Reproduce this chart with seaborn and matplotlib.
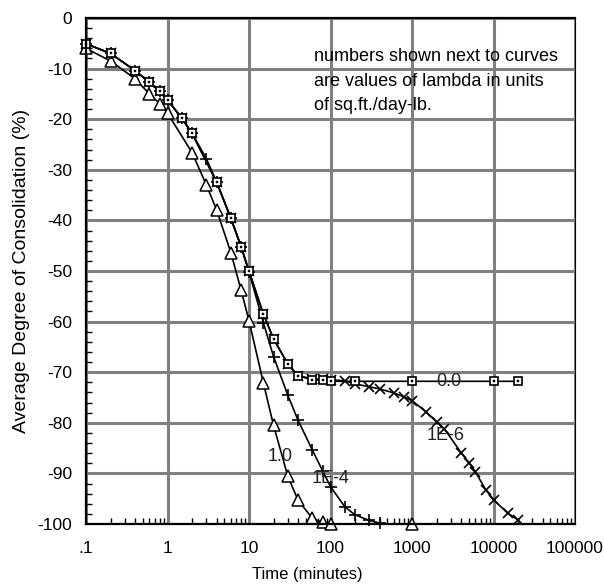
import matplotlib
matplotlib.use("Agg")
import matplotlib.pyplot as plt
import numpy as np
import pandas as pd
import seaborn as sns
from matplotlib.ticker import FixedLocator, FixedFormatter, NullFormatter, MultipleLocator

# ---- data (time in minutes, average degree of consolidation in %) ----
sq_t = [0.1, 0.2, 0.4, 0.6, 0.8, 1, 1.5, 2, 4, 6, 8, 10, 15, 20, 30, 40, 60, 80, 100,
        200, 1000, 10000, 20000]
sq_u = [-5.1, -7.0, -10.4, -12.7, -14.5, -16.2, -19.8, -22.8, -32.4, -39.6, -45.2, -50.0,
        -58.5, -63.4, -68.4, -70.7, -71.5, -71.6, -71.8, -71.8, -71.8, -71.8, -71.8]

x_t = [0.1, 0.2, 0.4, 0.6, 0.8, 1, 1.5, 2, 4, 6, 8, 10, 15, 20, 30, 40, 60, 80, 100,
       150, 200, 300, 400, 600, 800, 1000, 1500, 2000, 2500, 4000, 5000, 6000, 8000,
       10000, 15000, 20000]
x_u = [-5.1, -7.0, -10.4, -12.7, -14.5, -16.2, -19.8, -22.8, -32.4, -39.6, -45.2, -50.0,
       -58.5, -63.4, -68.4, -70.7, -71.3, -71.4, -71.5, -71.7, -72.3, -72.9, -73.3, -74.1,
       -74.9, -75.6, -77.9, -79.8, -81.2, -85.9, -87.9, -89.7, -93.2, -95.2, -97.9, -99.2]

p_t = [0.1, 0.2, 0.4, 0.6, 0.8, 1, 1.5, 2, 3, 4, 6, 8, 10, 15, 20, 30, 40, 60, 80, 100,
       150, 200, 300, 400]
p_u = [-5.1, -7.0, -10.4, -12.7, -14.5, -16.2, -19.8, -22.8, -27.8, -32.4, -39.6, -45.2,
       -50.2, -60.2, -66.9, -74.6, -79.5, -85.4, -89.5, -92.6, -96.6, -98.2, -99.3, -99.8]

tri_t = [0.1, 0.2, 0.4, 0.6, 0.8, 1, 2, 3, 4, 6, 8, 10, 15, 20, 30, 40, 60, 80, 100, 1000]
tri_u = [-6.0, -8.5, -12.0, -15.0, -16.9, -18.8, -26.6, -33.0, -37.9, -46.4, -53.8, -59.8,
         -72.1, -80.5, -90.6, -95.3, -98.9, -99.7, -100.0, -100.0]

lambda_labels = ["0.0", "1E-6", "1E-4", "1.0"]
label_t = [2800, 2600, 100, 24]
label_u = [-71.8, -82.5, -91.0, -86.7]

x_ticks = [0.1, 1, 10, 100, 1000, 10000, 100000]
x_ticklabels = [".1", "1", "10", "100", "1000", "10000", "100000"]
y_ticks = list(range(-100, 1, 10))
y_ticklabels = [str(v) for v in y_ticks]

note = "numbers shown next to curves\nare values of lambda in units\nof sq.ft./day-lb."

# ---- style ----
sns.set_style("white")
plt.rcParams["font.family"] = ["Liberation Sans", "DejaVu Sans"]
plt.rcParams["font.size"] = 12
plt.rcParams["text.color"] = "black"

fig = plt.figure(figsize=(6.04, 5.87), dpi=100)
ax = fig.add_axes([86 / 604, 1 - 524 / 587, (575 - 86) / 604, (524 - 18) / 587])

common = dict(ax=ax, color="black", estimator=None, sort=False, legend=False,
              linewidth=1.2, clip_on=False, zorder=3)

df_sq = pd.DataFrame({"t": sq_t, "u": sq_u})
df_x = pd.DataFrame({"t": x_t, "u": x_u})
df_p = pd.DataFrame({"t": p_t, "u": p_u})
df_tri = pd.DataFrame({"t": tri_t, "u": tri_u})

sns.lineplot(data=df_tri, x="t", y="u", marker="^", markersize=8,
             markerfacecolor="white", markeredgecolor="black", markeredgewidth=1.1, **common)
sns.lineplot(data=df_p, x="t", y="u", marker="+", markersize=9,
             markeredgecolor="black", markeredgewidth=1.2, **common)
sns.lineplot(data=df_x, x="t", y="u", marker="x", markersize=6.5,
             markeredgecolor="black", markeredgewidth=1.2, **common)
sns.lineplot(data=df_sq, x="t", y="u", marker="s", markersize=5.5,
             markerfacecolor="white", markeredgecolor="black", markeredgewidth=1.2, **common)
# center dot of square markers
sns.lineplot(data=df_sq, x="t", y="u", marker="s", markersize=1.5, linestyle="",
             markerfacecolor="black", markeredgecolor="black", markeredgewidth=0.3,
             ax=ax, color="black", estimator=None, sort=False, legend=False,
             clip_on=False, zorder=4)

ax.set_xlabel("")
ax.set_ylabel("")
ax.set_xscale("log")
ax.set_xlim(0.1, 100000)
ax.set_ylim(-100, 0)

ax.xaxis.set_major_locator(FixedLocator(x_ticks))
ax.xaxis.set_major_formatter(FixedFormatter(x_ticklabels))
ax.xaxis.set_minor_locator(matplotlib.ticker.LogLocator(base=10, subs=np.arange(2, 10), numticks=20))
ax.xaxis.set_minor_formatter(NullFormatter())
ax.yaxis.set_major_locator(FixedLocator(y_ticks))
ax.yaxis.set_major_formatter(FixedFormatter(y_ticklabels))
ax.yaxis.set_minor_locator(MultipleLocator(2))

ax.tick_params(axis="both", which="major", direction="in", length=0, labelsize=12.5,
               colors="black")
ax.tick_params(axis="x", which="major", pad=12)
ax.tick_params(axis="y", which="major", pad=10)
ax.tick_params(axis="both", which="minor", direction="in", length=4, width=1.0,
               color="black")
ax.tick_params(axis="x", which="minor", bottom=True, top=False)
ax.tick_params(axis="y", which="minor", left=True, right=False)

ax.grid(True, which="major", color="#808080", linewidth=2.2)
ax.set_axisbelow(True)

for side in ["left", "bottom", "top"]:
    ax.spines[side].set_visible(True)
    ax.spines[side].set_color("black")
    ax.spines[side].set_linewidth(1.6)
    ax.spines[side].set_zorder(5)
ax.spines["right"].set_visible(True)
ax.spines["right"].set_color("black")
ax.spines["right"].set_linewidth(0.8)

fig.text(307 / 604, 1 - 575 / 587, "Time (minutes)", ha="center", va="center",
         fontsize=12, color="black")
fig.text(22 / 604, 1 - 271 / 587, "Average Degree of Consolidation (%)", ha="center",
         va="center", rotation=90, fontsize=14, color="black")

for lab, tt, uu in zip(lambda_labels, label_t, label_u):
    ax.text(tt, uu, lab, ha="center", va="center", fontsize=13, color="#222222", zorder=6)

ax.text(314 / 604, 1 - 81 / 587, note, transform=fig.transFigure, ha="left", va="center",
        fontsize=13, linespacing=1.55, color="black", zorder=6)

fig.savefig("out.png", dpi=100)
